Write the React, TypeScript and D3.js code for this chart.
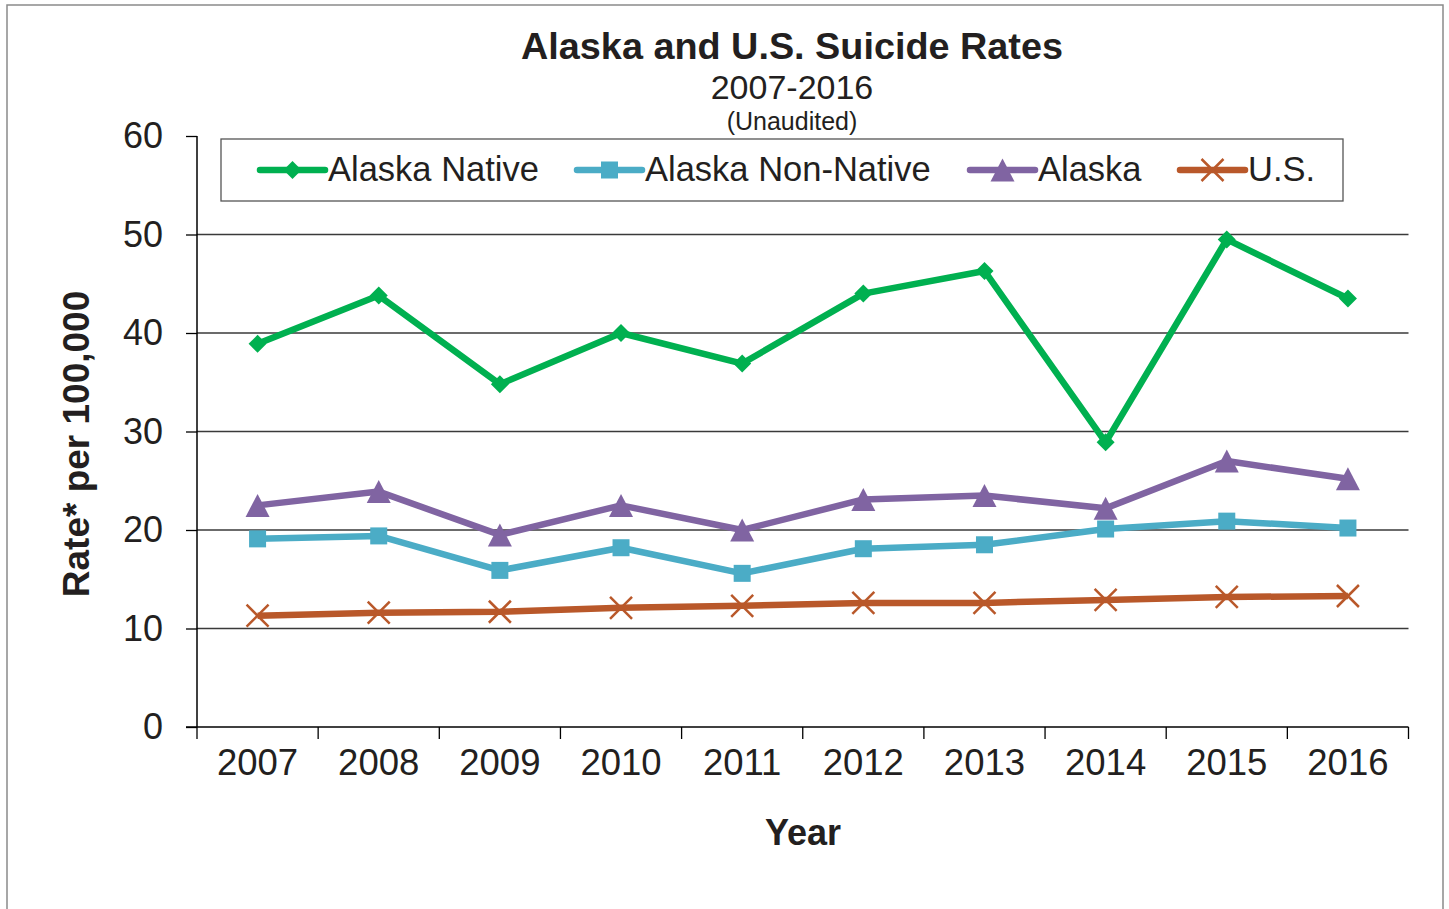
import React, { useEffect, useRef } from 'react';
import * as d3 from 'd3';

const years = ['2007', '2008', '2009', '2010', '2011', '2012', '2013', '2014', '2015', '2016'];
const alaskaNative = [38.9, 43.8, 34.8, 40.0, 36.9, 44.0, 46.3, 28.9, 49.5, 43.5];
const alaskaNonNative = [19.1, 19.4, 15.9, 18.2, 15.6, 18.1, 18.5, 20.1, 20.9, 20.2];
const alaska = [22.5, 23.9, 19.5, 22.5, 20.0, 23.1, 23.5, 22.2, 27.0, 25.2];
const us = [11.3, 11.6, 11.7, 12.1, 12.3, 12.6, 12.6, 12.9, 13.2, 13.3];
const yTicks = [0, 10, 20, 30, 40, 50, 60];
const gridTicks = [10, 20, 30, 40, 50];

const seriesNames = ['Alaska Native', 'Alaska Non-Native', 'Alaska', 'U.S.'];
const seriesColors = ['#00b050', '#4bacc6', '#8064a2', '#b9582a'];
const seriesMarkers = ['diamond', 'square', 'triangle', 'x'];
const seriesValues = [alaskaNative, alaskaNonNative, alaska, us];

const W = 1449;
const H = 909;
const plot = { left: 197, right: 1408.5, top: 136, bottom: 727 };
const font = '"Liberation Sans", Arial, Helvetica, sans-serif';
const textColor = '#231f20';

// legend slots: start of line sample for each item
const legendX = [260, 577, 970, 1180];

function Marker({ type, x, y, color }: { type: string; x: number; y: number; color: string }) {
  if (type === 'diamond') {
    const r = 9;
    return <path d={`M${x},${y - r}L${x + r},${y}L${x},${y + r}L${x - r},${y}Z`} fill={color} />;
  }
  if (type === 'square') {
    const s = 8.5;
    return <rect x={x - s} y={y - s} width={s * 2} height={s * 2} fill={color} />;
  }
  if (type === 'triangle') {
    const w = 12;
    const h = 11.5;
    return <path d={`M${x},${y - h}L${x + w},${y + h}L${x - w},${y + h}Z`} fill={color} />;
  }
  const r = 11;
  return (
    <path
      d={`M${x - r},${y - r}L${x + r},${y + r}M${x - r},${y + r}L${x + r},${y - r}`}
      stroke={color}
      strokeWidth={2.5}
      fill="none"
    />
  );
}

export default function App() {
  const yAxisRef = useRef<SVGGElement>(null);

  const x = d3.scaleBand().domain(years).range([plot.left, plot.right]);
  const y = d3.scaleLinear().domain([0, 60]).range([plot.bottom, plot.top]);
  const cx = (d: string) => (x(d) as number) + x.bandwidth() / 2;

  const line = d3
    .line<number>()
    .x((_, i) => cx(years[i]))
    .y(v => y(v));

  useEffect(() => {
    const yAxis = d3.axisLeft(y).tickValues(yTicks).tickSize(11).tickPadding(23);
    const g = d3.select(yAxisRef.current).call(yAxis as any);
    g.select('.domain').remove();
    g.selectAll('.tick line').attr('stroke', '#000').attr('stroke-width', 1.3);
    g.selectAll('.tick text')
      .attr('fill', textColor)
      .style('font-family', font)
      .style('font-size', '36px');
  }, []);

  const boundaries = years.map(d => x(d) as number).concat([plot.right]);

  return (
    <svg
      width={W}
      height={H}
      style={{ position: 'absolute', left: 0, top: 0, background: '#fff' }}
      fontFamily={font}
    >
      <rect x={7} y={5} width={1436} height={920} fill="#fff" stroke="#8a8a8a" strokeWidth={1.5} />

      {/* title */}
      <text x={792} y={59} textAnchor="middle" fontWeight="bold" fontSize={37.8} fill={textColor}>
        Alaska and U.S. Suicide Rates
      </text>
      <text x={792} y={99} textAnchor="middle" fontSize={34} fill={textColor}>
        2007-2016
      </text>
      <text x={792} y={130} textAnchor="middle" fontSize={25} fill={textColor}>
        (Unaudited)
      </text>

      {/* gridlines */}
      {gridTicks.map(t => (
        <line key={t} x1={plot.left} x2={plot.right} y1={y(t)} y2={y(t)} stroke="#3a3a3a" strokeWidth={1.3} />
      ))}

      {/* axes */}
      <g ref={yAxisRef} transform={`translate(${plot.left},0)`} />
      <line x1={plot.left} x2={plot.left} y1={plot.top} y2={plot.bottom} stroke="#000" strokeWidth={1.5} />
      <line x1={plot.left - 11} x2={plot.right} y1={plot.bottom} y2={plot.bottom} stroke="#000" strokeWidth={1.5} />
      {boundaries.map((b, i) => (
        <line key={i} x1={b} x2={b} y1={plot.bottom} y2={plot.bottom + 12} stroke="#000" strokeWidth={1.3} />
      ))}
      {years.map(d => (
        <text key={d} x={cx(d)} y={775} textAnchor="middle" fontSize={36.5} fill={textColor}>
          {d}
        </text>
      ))}

      <text x={803} y={845} textAnchor="middle" fontWeight="bold" fontSize={36} fill={textColor}>
        Year
      </text>
      <text
        transform="translate(89,444) rotate(-90)"
        textAnchor="middle"
        fontWeight="bold"
        fontSize={37}
        fill={textColor}
      >
        Rate* per 100,000
      </text>

      {/* series */}
      {seriesValues.map((vals, s) => (
        <g key={seriesNames[s]}>
          <path
            d={line(vals) as string}
            fill="none"
            stroke={seriesColors[s]}
            strokeWidth={6.5}
            strokeLinejoin="round"
          />
          {vals.map((v, i) => (
            <Marker key={i} type={seriesMarkers[s]} x={cx(years[i])} y={y(v)} color={seriesColors[s]} />
          ))}
        </g>
      ))}

      {/* legend */}
      <rect x={221} y={139} width={1122} height={62} fill="#fff" stroke="#555" strokeWidth={1.3} />
      {seriesNames.map((name, s) => (
        <g key={name}>
          <line
            x1={legendX[s]}
            x2={legendX[s] + 65}
            y1={170}
            y2={170}
            stroke={seriesColors[s]}
            strokeWidth={6.5}
            strokeLinecap="round"
          />
          <Marker type={seriesMarkers[s]} x={legendX[s] + 32.5} y={170} color={seriesColors[s]} />
          <text x={legendX[s] + 68} y={181} fontSize={34.5} fill={textColor}>
            {name}
          </text>
        </g>
      ))}
    </svg>
  );
}
